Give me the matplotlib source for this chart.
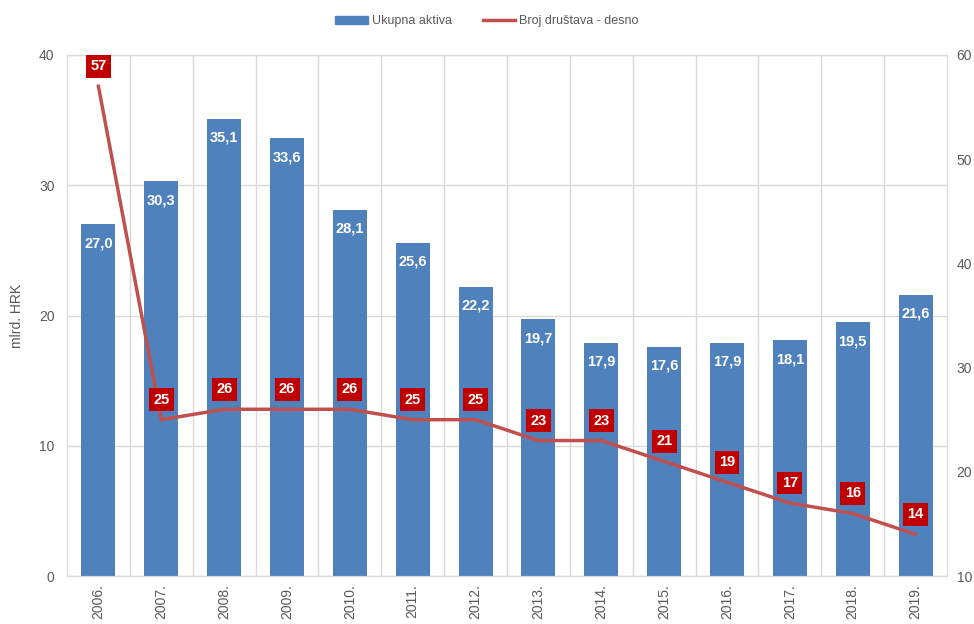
import matplotlib.pyplot as plt
import numpy as np
from matplotlib.lines import Line2D
from matplotlib.patches import Patch

plt.rcParams['font.family'] = ['Liberation Sans', 'DejaVu Sans']

years = ['2006.', '2007.', '2008.', '2009.', '2010.', '2011.', '2012.',
         '2013.', '2014.', '2015.', '2016.', '2017.', '2018.', '2019.']
assets = [27.0, 30.3, 35.1, 33.6, 28.1, 25.6, 22.2, 19.7, 17.9, 17.6, 17.9, 18.1, 19.5, 21.6]
companies = [57, 25, 26, 26, 26, 25, 25, 23, 23, 21, 19, 17, 16, 14]

bar_color = '#4f81bd'
line_color = '#c0504d'
box_color = '#c00000'
grid_color = '#d9d9d9'
text_color = '#595959'

fig = plt.figure(figsize=(9.74, 6.24), dpi=100)
ax = fig.add_axes([67 / 974, 48 / 624, 880 / 974, 521 / 624])
x = np.arange(len(years))

ax.bar(x, assets, width=0.54, color=bar_color, zorder=2)
for xi, v in zip(x, assets):
    ax.annotate(f'{v:.1f}'.replace('.', ','), (xi, v), xytext=(0, -19),
                textcoords='offset pixels',
                ha='center', va='center', color='white', fontsize=10.5,
                fontweight='bold', zorder=3)

ax.set_xlim(-0.5, len(years) - 0.5)
ax.set_ylim(0, 40)
ax.set_yticks([0, 10, 20, 30, 40])
ax.set_xticks(x)
ax.set_xticklabels(years, rotation=90)
ax.set_ylabel('mlrd. HRK', color=text_color, fontsize=10)
ax.yaxis.set_label_coords(-43 / 880, 0.5)
ax.tick_params(length=0, colors=text_color, labelsize=10)
ax.tick_params(axis='y', pad=9)
ax.tick_params(axis='x', pad=6)

ax.grid(axis='y', color=grid_color, lw=1, zorder=0)
for b in np.arange(0.5, len(years) - 1, 1.0):
    ax.axvline(b, color=grid_color, lw=1, zorder=0)
for s in ax.spines.values():
    s.set_color(grid_color)

ax2 = ax.twinx()
ax2.plot(x, companies, color=line_color, lw=2.5, zorder=4)
ax2.set_ylim(10, 60)
ax2.set_yticks([10, 20, 30, 40, 50, 60])
ax2.tick_params(length=0, colors=text_color, labelsize=10, pad=7)
for s in ax2.spines.values():
    s.set_color(grid_color)
for xi, v in zip(x, companies):
    ax2.annotate(str(v), (xi, v), xytext=(0, 20), textcoords='offset pixels',
                 ha='center', va='center', color='white', fontsize=10.5,
                 fontweight='bold', zorder=5,
                 bbox=dict(boxstyle='square,pad=0.3', fc=box_color, ec='none'))

handles = [Patch(color=bar_color, label='Ukupna aktiva'),
           Line2D([0], [0], color=line_color, lw=2.5, label='Broj društava - desno')]
fig.legend(handles=handles, loc='center', bbox_to_anchor=(0.5, 0.966), ncol=2,
           frameon=False, fontsize=9, labelcolor=text_color, handlelength=2.6,
           handleheight=0.6, columnspacing=2.5, handletextpad=0.3)

fig.savefig('out.png', dpi=100)
